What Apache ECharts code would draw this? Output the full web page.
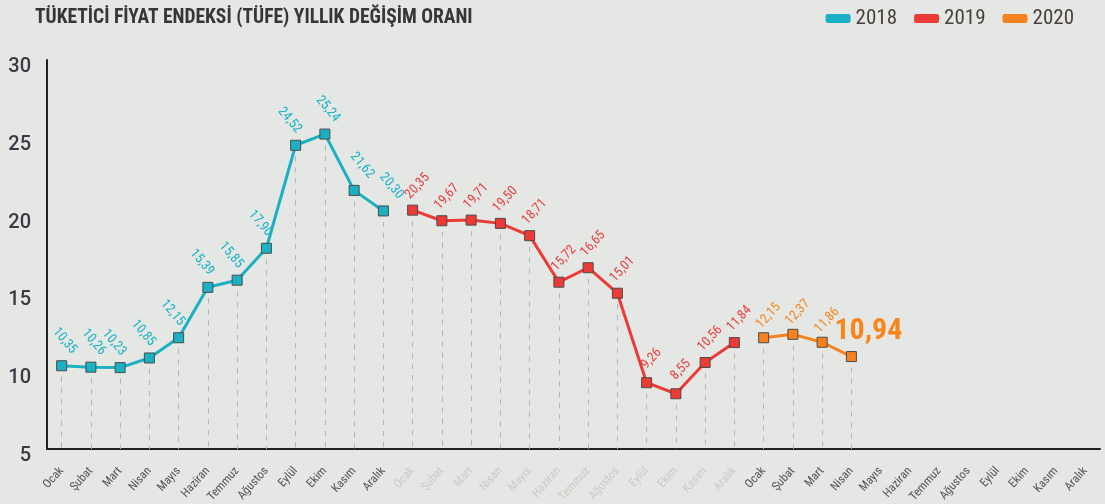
<!DOCTYPE html>
<html>
<head>
<meta charset="utf-8">
<script src="https://cdn.jsdelivr.net/npm/echarts@6/dist/echarts.min.js"></script>
<style>
html,body{margin:0;padding:0;background:#e4e7e3;}
#c{width:1105px;height:504px;}
</style>
</head>
<body>
<div id="c"></div>
<script>
const months = ['Ocak','Şubat','Mart','Nisan','Mayıs','Haziran','Temmuz','Ağustos','Eylül','Ekim','Kasım','Aralık'];
const years = ['2018','2019','2020'];
const values2018 = [10.35,10.26,10.23,10.85,12.15,15.39,15.85,17.90,24.52,25.24,21.62,20.30];
const values2019 = [20.35,19.67,19.71,19.50,18.71,15.72,16.65,15.01,9.26,8.55,10.56,11.84];
const values2020 = [12.15,12.37,11.86,10.94];
const yTicks = [5,10,15,20,25,30];

const FONT = "'Roboto Condensed','Open Sans Condensed',Roboto,sans-serif";
const colors = {'2018':'#1bb0c3','2019':'#ec3a36','2020':'#f5821f'};
const labelColors = {'2018':'#17b4c8','2019':'#ee3c3c','2020':'#f7861f'};

const categories = [];
years.forEach((y, yi) => months.forEach(m => categories.push({
  value: m,
  textStyle: {color: yi === 1 ? '#c9cbc8' : '#555555'}
})));

function fmt(v){ return v.toFixed(2).replace('.', ','); }
// convert a desired on-screen offset into the rotated label frame
function rotOffset(dx, dy, r){
  const a = r * Math.PI / 180;
  return [dx * Math.cos(a) - dy * Math.sin(a), dx * Math.sin(a) + dy * Math.cos(a)];
}

// labels rotated downward: put them on the side away from the neighbouring segment
function sideAware(vals, i){
  const v = vals[i], prev = vals[i - 1], next = vals[i + 1];
  if (prev != null && prev - v > 1) return 8;
  if (next != null && next > v) return -6;
  return 3;
}

function buildSeries(name, vals, startIdx, rot, dx, dy, opts){
  const data = new Array(categories.length).fill(null);
  vals.forEach((v, i) => {
    const last = opts.bigLast && i === vals.length - 1;
    if (last) {
      data[startIdx + i] = {value: v, label: {rotate: 0, fontSize: 30, fontWeight: 'bold', offset: [17, -25]}};
    } else {
      const ox = opts.sideAware ? sideAware(vals, i) : dx;
      data[startIdx + i] = {value: v, label: {offset: rotOffset(ox, dy, rot)}};
    }
  });
  return {
    name: name,
    type: 'line',
    z: 3,
    data: data,
    symbol: 'rect',
    symbolSize: 10,
    lineStyle: {color: colors[name], width: 3},
    itemStyle: {color: colors[name], borderColor: '#4b4b4b', borderWidth: 1},
    label: {
      show: true,
      position: 'inside',
      rotate: rot,
      align: 'center',
      verticalAlign: 'middle',
      color: labelColors[name],
      fontFamily: FONT,
      fontSize: 13.5,
      formatter: p => fmt(p.value)
    },
    markLine: {
      silent: true,
      symbol: 'none',
      z: 1,
      label: {show: false},
      lineStyle: {type: [5, 6], color: '#b4b6b3', width: 1},
      data: vals.map((v, i) => [{coord: [startIdx + i, v]}, {coord: [startIdx + i, yTicks[0]]}])
    }
  };
}

const chart = echarts.init(document.getElementById('c'));
chart.setOption({
  backgroundColor: '#e4e7e3',
  animation: false,
  color: [colors['2018'], colors['2019'], colors['2020']],
  title: {
    text: 'TÜKETİCİ FİYAT ENDEKSİ (TÜFE) YILLIK DEĞİŞİM ORANI',
    left: 30, top: 3,
    textStyle: {fontFamily: FONT, fontSize: 19.5, fontWeight: 'bold', color: '#363636'}
  },
  legend: {
    right: 26, top: 3,
    icon: 'roundRect',
    itemWidth: 25, itemHeight: 9, itemGap: 17,
    itemStyle: {borderWidth: 0},
    textStyle: {fontFamily: FONT, fontSize: 21, color: '#4a3f3f'},
    data: years
  },
  grid: {left: 47, right: 5, top: 60, bottom: 55, containLabel: false, outerBoundsMode: 'none'},
  xAxis: {
    type: 'category',
    data: categories,
    boundaryGap: true,
    axisLine: {lineStyle: {color: '#222', width: 2}},
    axisTick: {show: false},
    axisLabel: {interval: 0, rotate: 48, margin: 20, fontFamily: FONT, fontSize: 12}
  },
  yAxis: {
    type: 'value',
    min: yTicks[0], max: yTicks[yTicks.length - 1], interval: 5,
    axisLine: {show: true, lineStyle: {color: '#222', width: 2}},
    axisTick: {show: false},
    splitLine: {show: false},
    axisLabel: {margin: 16, fontFamily: 'Roboto, sans-serif', fontSize: 20, fontWeight: 500, color: '#3a3a44', verticalAlign: 'top', lineHeight: 14}
  },
  series: [
    buildSeries('2018', values2018, 0, -50, 0, -25, {sideAware: true}),
    buildSeries('2019', values2019, 12, 47, 5, -24, {}),
    buildSeries('2020', values2020, 24, 47, 5, -22, {bigLast: true})
  ]
});
</script>
</body>
</html>
